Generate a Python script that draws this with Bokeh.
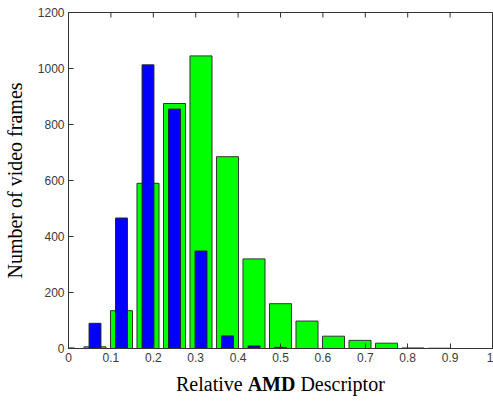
import math
from bokeh.plotting import figure
from bokeh.layouts import column
from bokeh.models import Range1d, FixedTicker, ColumnDataSource, Div
from bokeh.embed import file_html
from bokeh.resources import INLINE

# ---- data ----
green_centers = [0.0625, 0.125, 0.1875, 0.25, 0.3125, 0.375, 0.4375, 0.5,
                 0.5625, 0.625, 0.6875, 0.75, 0.8125, 0.875]
green_counts = [6, 135, 590, 875, 1045, 685, 320, 160, 98, 44, 29, 19, 2, 1]

blue_centers = [0.0, 0.0625, 0.125, 0.1875, 0.25, 0.3125, 0.375, 0.4375, 0.5]
blue_counts = [2, 90, 466, 1013, 855, 348, 45, 9, 4]

x_ticks = [0, 0.1, 0.2, 0.3, 0.4, 0.5, 0.6, 0.7, 0.8, 0.9, 1]
x_tick_labels = ["0", "0.1", "0.2", "0.3", "0.4", "0.5", "0.6", "0.7", "0.8", "0.9", "1"]
y_ticks = [0, 200, 400, 600, 800, 1000, 1200]
x_min, x_max = 0, 1
y_min, y_max = 0, 1200

green_width = 0.052
blue_width = 0.028

p = figure(width=493, height=373, output_backend="svg", toolbar_location=None,
           x_range=Range1d(x_min, x_max), y_range=Range1d(y_min, y_max),
           min_border_left=67, min_border_top=12, min_border_right=1, min_border_bottom=25)
p.xgrid.visible = False
p.ygrid.visible = False
p.background_fill_color = "white"
p.border_fill_color = "white"
p.outline_line_color = "#333333"
p.outline_line_width = 1

green_src = ColumnDataSource(dict(x=green_centers, top=green_counts))
blue_src = ColumnDataSource(dict(x=blue_centers, top=blue_counts))

p.vbar(x="x", top="top", bottom=0, width=green_width, source=green_src,
       fill_color="#00ff00", line_color="#333333", line_width=1)
p.vbar(x="x", top="top", bottom=0, width=blue_width, source=blue_src,
       fill_color="#0000ff", line_color="#222222", line_width=1)

# inward tick marks along the top edge of the box (half of each dash is clipped)
p.scatter(x=x_ticks, y=[y_max] * len(x_ticks), marker="dash", size=10,
          angle=math.pi / 2, line_color="#333333", line_width=1)

for ax in (p.xaxis[0], p.yaxis[0]):
    ax.major_tick_in = 5
    ax.major_tick_out = 0
    ax.minor_tick_in = 0
    ax.minor_tick_out = 0
    ax.axis_line_color = "#333333"
    ax.major_tick_line_color = "#333333"
    ax.major_label_text_font = "Liberation Sans"
    ax.major_label_text_font_size = "12px"
    ax.major_label_text_color = "#3a3a3a"

p.xaxis[0].ticker = FixedTicker(ticks=x_ticks)
p.xaxis[0].major_label_overrides = {t: s for t, s in zip(x_ticks, x_tick_labels)}
p.xaxis[0].major_label_standoff = 4

p.yaxis[0].ticker = FixedTicker(ticks=y_ticks)
p.yaxis[0].major_label_standoff = 4
p.yaxis[0].axis_label = "Number of video frames"
p.yaxis[0].axis_label_text_font = "Liberation Serif"
p.yaxis[0].axis_label_text_font_size = "20px"
p.yaxis[0].axis_label_text_font_style = "normal"
p.yaxis[0].axis_label_text_color = "black"
p.yaxis[0].axis_label_standoff = 9

xlabel = Div(
    text=('<div style="font-family:\'Liberation Serif\';font-size:20px;color:black;'
          'line-height:23px;white-space:nowrap;">Relative <b>AMD</b> Descriptor</div>'),
    width=300, height=27, margin=(0, 0, 0, 176))

layout = column(p, xlabel, spacing=0)
open("out.html", "w").write(file_html(layout, INLINE))
